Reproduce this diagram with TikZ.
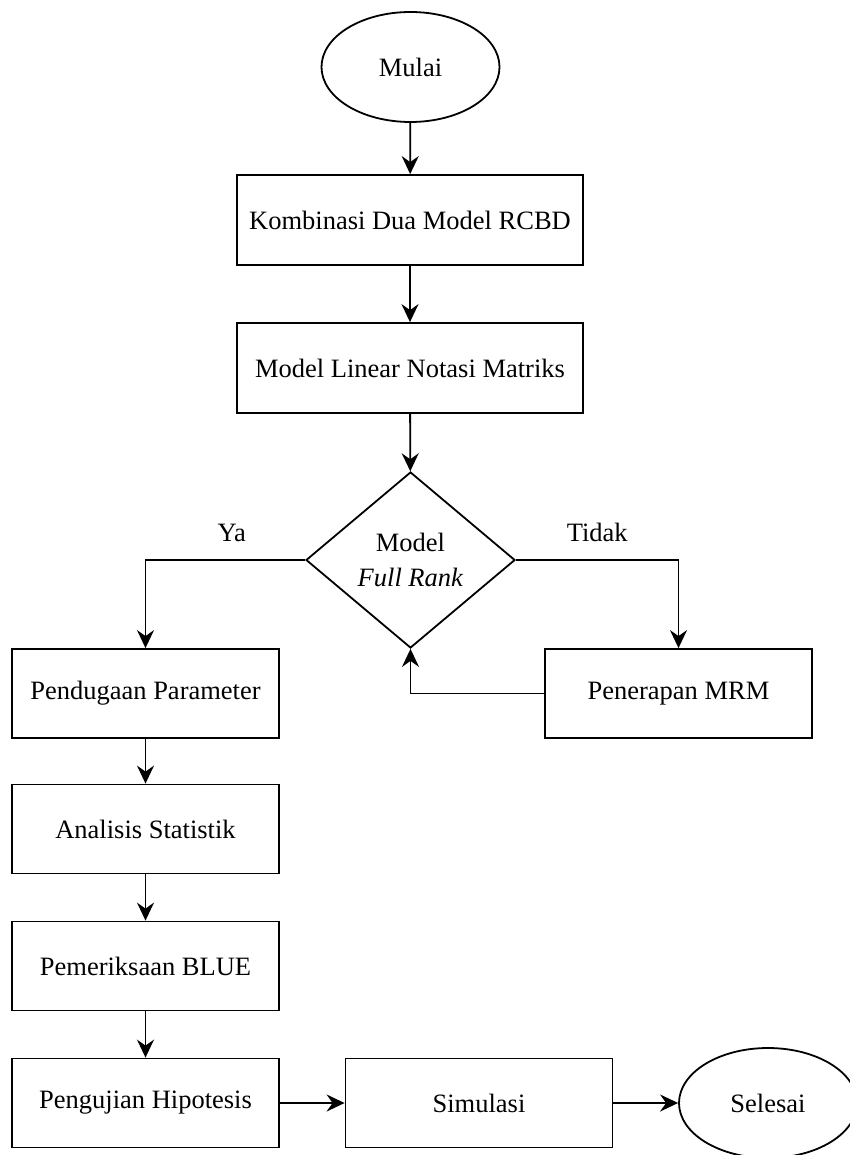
\documentclass[tikz,border=0pt]{standalone}
\usepackage{fontspec}
\setmainfont{Liberation Serif}
\usetikzlibrary{shapes.geometric, arrows.meta}

\begin{document}
\begin{tikzpicture}[x=1pt, y=-1pt, font=\fontsize{26.5}{35}\selectfont,
    flowTerm/.style={draw, ellipse, line width=1.8pt, inner sep=0pt, minimum width=178pt, minimum height=110pt},
    flowBox/.style={draw, rectangle, line width=1.8pt, inner sep=0pt, minimum width=267pt, minimum height=89pt, align=center},
    flowWide/.style={flowBox, minimum width=346pt, minimum height=90pt},
    flowDec/.style={draw, diamond, line width=1.8pt, inner sep=0pt, minimum width=209pt, minimum height=176pt, align=center},
    flowLabel/.style={inner sep=0pt},
    flowArrow/.style={-{Stealth[length=18pt, width=17pt, inset=6pt]}, line width=1.8pt}]

    \useasboundingbox (0, 0) rectangle (849, 1155);

    % alur utama
    \node[flowTerm] (mulai) at (410.5, 67) {Mulai};
    \node[flowWide] (kombinasi) at (410, 220) {Kombinasi Dua Model RCBD};
    \node[flowWide] (linear) at (410, 368) {Model Linear Notasi Matriks};
    \node[flowDec] (fullrank) at (410.5, 560) {Model\\\textit{Full Rank}};

    % cabang
    \node[flowBox] (pendugaan) at (145.5, 693.5) {Pendugaan Parameter};
    \node[flowBox] (penerapan) at (678.5, 693.5) {Penerapan MRM};
    \node[flowBox] (analisis) at (145.5, 829) {Analisis Statistik};
    \node[flowBox] (pemeriksaan) at (145.5, 966) {Pemeriksaan BLUE};
    \node[flowBox] (pengujian) at (145.5, 1103) {Pengujian Hipotesis};
    \node[flowBox] (simulasi) at (479, 1103) {Simulasi};
    \node[flowTerm] (selesai) at (768, 1103) {Selesai};

    \draw[flowArrow] (mulai) -- (kombinasi);
    \draw[flowArrow] (kombinasi) -- (linear);
    \draw[flowArrow] (linear) -- (fullrank);
    \draw[flowArrow] (fullrank.west) -| node[flowLabel, above=17pt, pos=0.23] {Ya} (pendugaan.north);
    \draw[flowArrow] (fullrank.east) -| node[flowLabel, above=17pt, pos=0.25] {Tidak} (penerapan.north);
    \draw[flowArrow] (penerapan.west) -| (fullrank.south);
    \draw[flowArrow] (pendugaan) -- (analisis);
    \draw[flowArrow] (analisis) -- (pemeriksaan);
    \draw[flowArrow] (pemeriksaan) -- (pengujian);
    \draw[flowArrow] (pengujian) -- (simulasi);
    \draw[flowArrow] (simulasi) -- (selesai);
\end{tikzpicture}
\end{document}
